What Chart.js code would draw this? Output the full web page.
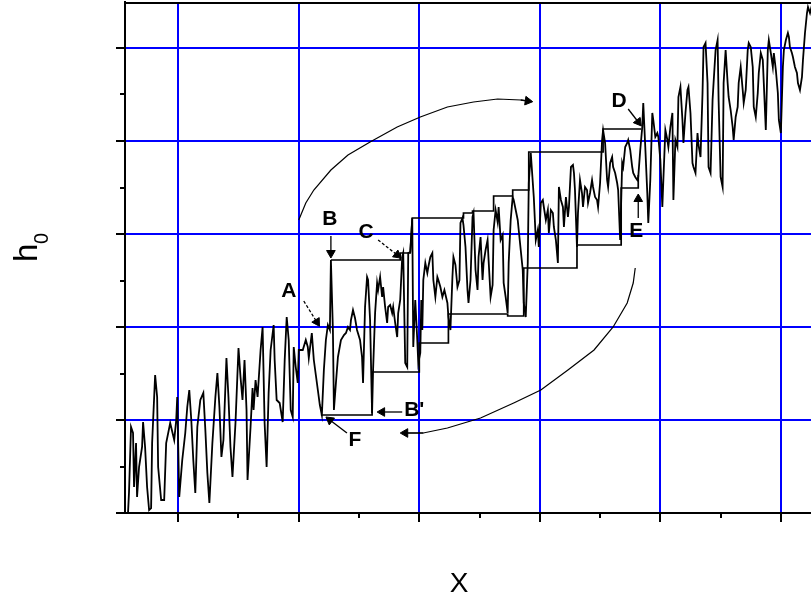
<!DOCTYPE html>
<html><head><meta charset="utf-8">
<script src="https://cdn.jsdelivr.net/npm/chart.js@4/dist/chart.umd.min.js"></script>
<style>html,body{margin:0;padding:0;background:#fff}#wrap{width:811px;height:596px;position:relative}</style>
</head><body><div id="wrap"><canvas id="c" width="811" height="596"></canvas></div>
<script>
// ---- data (x in arbitrary units, h0 in arbitrary units) ----
const tracePoints = [
[70,0],[71,21],[73,86],[75,80],[76,26],[78,70],[79,16],[81,46],[84,66],[85,91],
[87,66],[89,26],[91,3],[93,5],[94,70],[97,138],[99,116],[100,46],[103,13],[106,13],
[108,70],[112,90],[116,73],[118,93],[119,116],[121,16],[124,53],[127,80],[129,106],[131,123],
[133,93],[135,53],[137,20],[139,86],[142,113],[145,120],[147,83],[149,40],[151,10],[154,70],
[157,116],[159,140],[161,106],[163,56],[165,73],[168,155],[170,116],[172,66],[174,36],[177,90],
[180,165],[182,136],[184,113],[186,153],[188,103],[189,33],[192,86],[194,125],[195,103],[197,133],
[199,116],[202,163],[204,186],[206,90],[208,46],[210,120],[212,163],[215,188],[216,153],[218,113],
[221,110],[224,91],[226,153],[228,196],[230,173],[232,103],[234,96],[235,166],[237,146],[239,130],
[240,163],[244,163],[247,173],[249,166],[250,155],[253,180],[255,153],[257,138],[259,123],[261,108],
[263,98],[265,143],[267,173],[269,188],[271,183],[272,253],[274,183],[275,103],[277,130],[279,156],
[282,173],[285,178],[287,180],[289,186],[291,183],[292,193],[294,203],[296,195],[298,183],[301,173],
[303,156],[304,130],[306,206],[308,236],[309,233],[311,193],[313,100],[314,143],[316,200],[318,230],
[319,223],[321,236],[323,216],[324,226],[326,206],[328,190],[329,206],[331,208],[333,200],[334,206],
[336,190],[338,176],[339,200],[341,213],[343,256],[344,260],[346,150],[348,146],[349,260],[351,261],
[353,295],[354,166],[356,213],[358,173],[359,150],[361,160],[362,213],[363,183],[364,233],[366,250],
[368,240],[369,246],[371,256],[373,260],[374,233],[376,216],[378,236],[379,233],[381,226],[383,216],
[385,223],[388,210],[389,196],[391,183],[393,236],[394,256],[396,248],[398,226],[400,233],[401,290],
[403,295],[404,288],[406,266],[408,223],[409,210],[411,233],[413,296],[414,300],[416,243],[418,223],
[419,256],[421,276],[423,233],[424,250],[426,263],[428,273],[429,253],[431,216],[433,228],[434,283],
[436,303],[438,291],[439,306],[441,273],[443,278],[444,230],[446,216],[448,200],[449,250],[451,293],
[453,316],[454,313],[456,303],[458,293],[459,283],[461,263],[463,243],[464,210],[466,196],[468,250],
[469,330],[471,360],[474,316],[476,273],[478,283],[479,266],[481,310],[483,313],[484,306],[486,293],
[488,303],[489,280],[491,303],[493,300],[494,286],[496,273],[498,250],[499,326],[501,313],[503,306],
[504,286],[506,316],[508,296],[509,306],[511,346],[513,348],[514,340],[515,323],[517,266],[518,300],
[520,333],[522,320],[523,306],[525,326],[527,323],[528,310],[530,320],[532,333],[533,326],[535,316],
[537,313],[538,306],[540,330],[542,373],[543,383],[545,370],[547,333],[548,326],[550,350],[552,356],
[553,346],[555,340],[557,330],[558,323],[560,273],[562,350],[563,346],[565,366],[567,370],[568,373],
[570,363],[572,346],[573,340],[575,336],[577,333],[578,336],[580,363],[582,386],[583,410],[585,366],
[587,320],[588,290],[590,333],[592,400],[593,393],[595,376],[597,380],[598,376],[600,353],[602,306],
[603,333],[605,383],[607,373],[608,366],[610,386],[612,400],[613,313],[615,373],[617,366],[618,416],
[620,426],[622,393],[623,370],[625,400],[627,423],[628,426],[630,400],[632,350],[633,346],[635,340],
[637,380],[638,368],[640,356],[642,420],[643,466],[645,470],[647,430],[648,346],[650,340],[652,413],
[653,430],[655,463],[657,473],[658,413],[660,336],[662,326],[663,430],[665,463],[667,430],[668,416],
[670,403],[672,386],[673,373],[675,396],[677,406],[678,430],[680,446],[682,423],[683,410],[685,423],
[687,463],[688,470],[690,466],[692,446],[693,406],[695,396],[697,420],[698,440],[700,460],[702,453],
[703,430],[705,383],[707,463],[708,473],[710,460],[712,446],[713,460],[715,443],[717,420],[718,393],
[720,380],[722,446],[723,463],[725,473],[727,480],[728,476],[729,466],[731,460],[732,456],[734,446],
[736,440],[737,430],[739,423],[741,436],[742,453],[744,480],[746,500],[747,506],[749,500],[751,508]
];
const upperSteps = [[272,253],[341,253],[341,260],[351,260],[353,295],[404,295],[404,300],[413,300],[413,302],[434,302],[434,317],[453,317],[453,323],[469,323],[469,361],[543,361],[543,384],[581,384]];
const lowerSteps = [[262,98],[313,98],[313,141],[360,141],[360,170],[389,170],[389,199],[448,199],[448,197],[464,197],[464,245],[517,245],[517,268],[561,268],[561,325],[578,325],[578,338]];
const upperArc = [[240,293],[247,310],[255,323],[272,343],[289,358],[311,371],[338,386],[361,396],[388,406],[414,411],[438,414],[461,413],[468,412]];
const lowerArc = [[575,245],[573,230],[567,210],[553,186],[534,163],[508,143],[481,123],[454,110],[421,95],[388,85],[364,80],[346,80]];
const arrowA = [[245,212],[258,191]];
const arrowB = [[272,277],[272,260]];
const arrowC = [[319,273],[338,258]];
const arrowD = [[568,404],[578,391]];
const arrowE = [[578,295],[578,314]];
const arrowF = [[288,80],[271,93]];
const arrowBp = [[343,101],[323,101]];
const labelText = ['A','B','C','D','E','F',"B'"];
const labelX = [230,271,307,559,576,296,355];
const labelY = [222,294,281,412,282,73,103];
const xMajorTicks = [120,240,360,480,600,720];
const xMinorTicks = [180,300,420,540,660];
const yMajorTicks = [0,93,186,279,372,465];
const yMinorTicks = [46.5,139.5,232.5,325.5,418.5];

const toXY = arr => arr.map(p => ({x:p[0], y:p[1]}));
function lineSet(arr, w, dash){
  return {data:toXY(arr), showLine:true, borderColor:'#000', borderWidth:w, pointRadius:0, borderDash:dash||[], tension:0};
}
function arrowSet(arr, dash){
  const dx = arr[1][0]-arr[0][0], dy = arr[1][1]-arr[0][1];
  const rot = Math.atan2(dx, dy)*180/Math.PI;
  return {data:toXY(arr), showLine:true, borderColor:'#000', borderWidth:1.3, borderDash:dash||[],
    pointRadius:[0,5], pointStyle:'triangle', pointRotation:[0,rot],
    pointBackgroundColor:'#000', pointBorderColor:'#000', pointBorderWidth:1};
}

const decor = {
  id:'decor',
  afterDraw(chart){
    const {ctx, chartArea:a, scales:{x, y}} = chart;
    ctx.save();
    ctx.strokeStyle = '#000'; ctx.lineWidth = 2;
    ctx.beginPath(); ctx.moveTo(a.left-1, a.top+1); ctx.lineTo(a.right, a.top+1); ctx.stroke();
    ctx.beginPath();
    xMajorTicks.forEach(v => { const p = Math.round(x.getPixelForValue(v)); ctx.moveTo(p, a.bottom); ctx.lineTo(p, a.bottom+9); });
    xMinorTicks.forEach(v => { const p = Math.round(x.getPixelForValue(v)); ctx.moveTo(p, a.bottom); ctx.lineTo(p, a.bottom+5); });
    yMajorTicks.forEach(v => { const p = Math.round(y.getPixelForValue(v)); ctx.moveTo(a.left, p); ctx.lineTo(a.left-9, p); });
    yMinorTicks.forEach(v => { const p = Math.round(y.getPixelForValue(v)); ctx.moveTo(a.left, p); ctx.lineTo(a.left-5, p); });
    ctx.stroke();
    // point labels
    ctx.fillStyle = '#000';
    ctx.font = 'bold 21px "Liberation Sans", Arial, sans-serif';
    ctx.textAlign = 'center'; ctx.textBaseline = 'middle';
    labelText.forEach((t,i) => ctx.fillText(t, x.getPixelForValue(labelX[i]), y.getPixelForValue(labelY[i])));
    // axis titles
    ctx.font = '28px "Liberation Sans", Arial, sans-serif';
    ctx.textBaseline = 'alphabetic';
    ctx.fillText('X', 459, 592);
    ctx.save();
    ctx.translate(37, 262);
    ctx.rotate(-Math.PI/2);
    ctx.textAlign = 'left';
    ctx.font = '33px "Liberation Sans", Arial, sans-serif';
    ctx.fillText('h', 0, 0);
    ctx.font = '20px "Liberation Sans", Arial, sans-serif';
    ctx.fillText('0', 18, 11);
    ctx.restore();
    ctx.restore();
  }
};

new Chart(document.getElementById('c'), {
  type:'scatter',
  data:{datasets:[
    lineSet(tracePoints, 1.8),
    lineSet(upperSteps, 1.7),
    lineSet(lowerSteps, 1.7),
    lineSet(upperArc, 1.2),
    lineSet(lowerArc, 1.2),
    arrowSet(upperArc.slice(-2)),
    arrowSet(lowerArc.slice(-2)),
    arrowSet(arrowA, [3,2]),
    arrowSet(arrowB),
    arrowSet(arrowC, [3,2]),
    arrowSet(arrowD),
    arrowSet(arrowE),
    arrowSet(arrowF),
    arrowSet(arrowBp)
  ]},
  options:{
    responsive:false, animation:false, devicePixelRatio:1,
    layout:{autoPadding:false, padding:{left:125, top:2, right:0, bottom:83}},
    plugins:{legend:{display:false}, tooltip:{enabled:false}},
    scales:{
      x:{type:'linear', min:67, max:750,
        afterBuildTicks: s => { s.ticks = xMajorTicks.map(v => ({value:v})); },
        ticks:{display:false},
        grid:{color:'#0000ff', lineWidth:2, drawTicks:false},
        border:{display:true, color:'#000', width:2}},
      y:{type:'linear', min:0, max:511,
        afterBuildTicks: s => { s.ticks = yMajorTicks.map(v => ({value:v})); },
        ticks:{display:false},
        grid:{color:'#0000ff', lineWidth:2, drawTicks:false},
        border:{display:true, color:'#000', width:2}}
    }
  },
  plugins:[decor]
});
</script></body></html>
